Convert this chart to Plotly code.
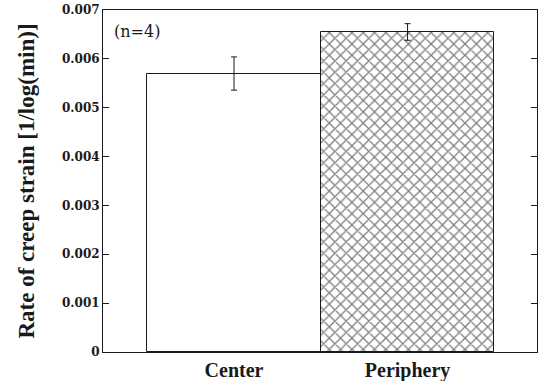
import plotly.graph_objects as go

categories = ["Center", "Periphery"]
values = [0.0057, 0.00655]
errors = [0.00034, 0.00017]
y_tickvals = [0, 0.001, 0.002, 0.003, 0.004, 0.005, 0.006, 0.007]
y_ticktext = ["0", "0.001", "0.002", "0.003", "0.004", "0.005", "0.006", "0.007"]
x_pos = [0, 1]

FONT = "Liberation Serif, Times New Roman, serif"
FONT2 = "DejaVu Serif, serif"
INK = "#1a1a1a"

fig = go.Figure()
fig.add_trace(go.Bar(
    x=[x_pos[0]], y=[values[0]], width=1.0,
    marker=dict(color="white", line=dict(color=INK, width=1)),
    error_y=dict(type="data", array=[errors[0]], color=INK, thickness=1, width=3),
    showlegend=False,
))
fig.add_trace(go.Bar(
    x=[x_pos[1]], y=[values[1]], width=1.0,
    marker=dict(color="white", line=dict(color=INK, width=1),
                pattern=dict(shape="x", fgcolor="#000000", bgcolor="white", size=8, solidity=0.3)),
    error_y=dict(type="data", array=[errors[1]], color=INK, thickness=1, width=3),
    showlegend=False,
))

fig.add_annotation(x=0.02, y=0.97, xref="paper", yref="paper", text="(n=4)",
                   showarrow=False, xanchor="left", yanchor="top",
                   font=dict(family=FONT2, size=16, color=INK))

fig.update_layout(
    width=542, height=381,
    margin=dict(l=103, r=5, t=10, b=29),
    paper_bgcolor="white", plot_bgcolor="white",
    bargap=0, barmode="overlay",
    font=dict(family=FONT, color=INK),
)
fig.update_xaxes(
    range=[-0.755, 1.746], tickvals=x_pos, ticktext=categories,
    tickfont=dict(family=FONT, size=20, color=INK, weight="bold"),
    showline=True, linecolor=INK, linewidth=1, mirror=True,
    ticks="", showgrid=False, zeroline=False, automargin=False,
)
fig.update_yaxes(
    range=[0, 0.007], tickvals=y_tickvals, ticktext=y_ticktext,
    tickfont=dict(family=FONT2, size=12, color=INK, weight="bold"),
    showline=True, linecolor=INK, linewidth=1, mirror="ticks",
    ticks="inside", ticklen=6, tickcolor=INK,
    showgrid=False, zeroline=False, automargin=False,
    title=dict(text="Rate of creep strain [1/log(min)]", standoff=20,
               font=dict(family=FONT, size=23, color=INK, weight="bold")),
)

fig.write_html("out.html", config={"displayModeBar": False},
               post_script="document.body.style.margin='0px';")
